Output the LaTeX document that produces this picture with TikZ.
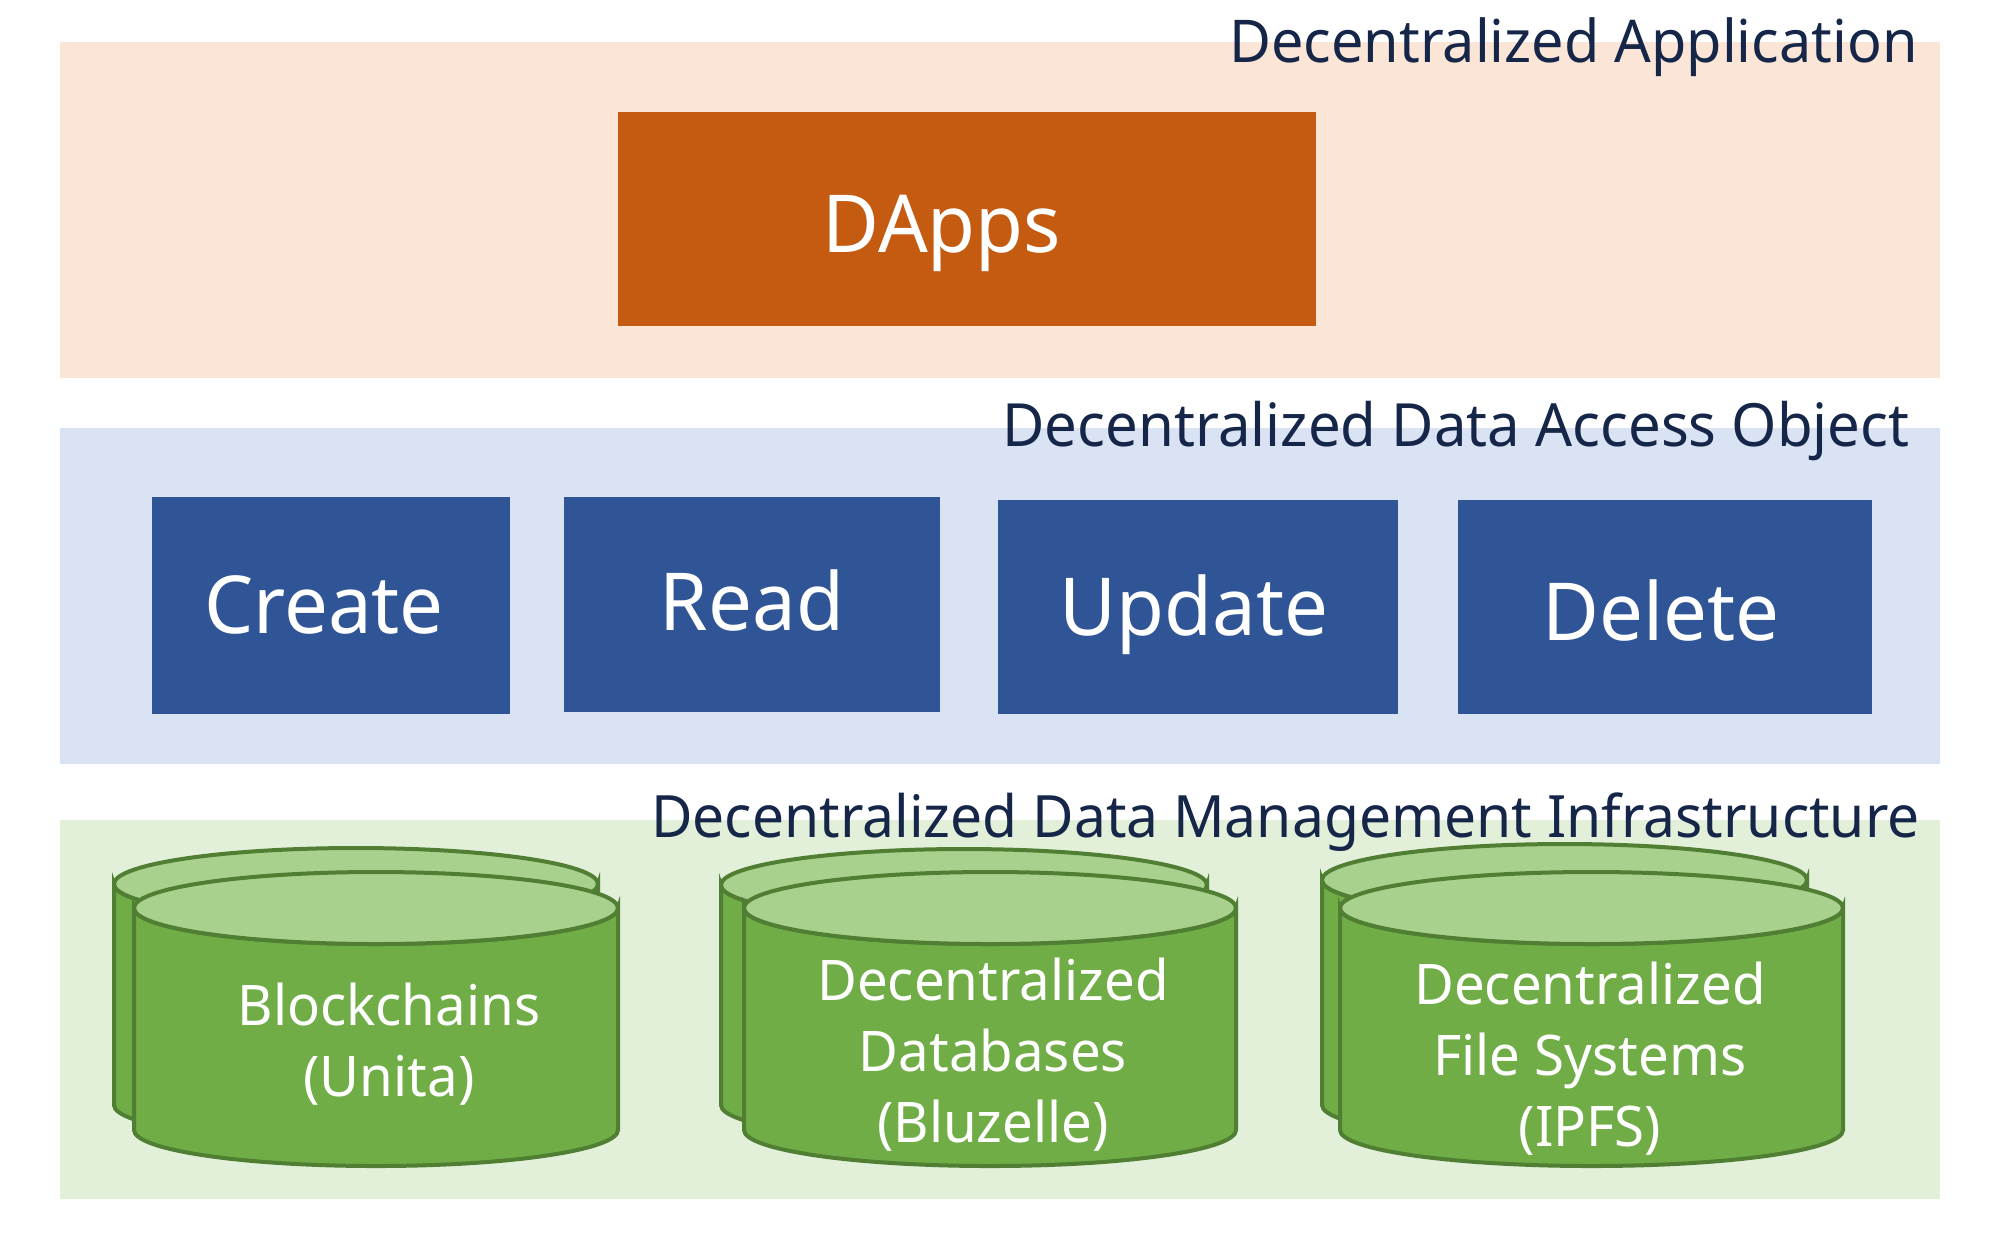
\documentclass[tikz,border=0pt]{standalone}
\usepackage{fontspec}
\setmainfont[FakeStretch=0.975]{Noto Sans}
\definecolor{bandA}{HTML}{FBE5D6}
\definecolor{bandB}{HTML}{DAE3F3}
\definecolor{bandC}{HTML}{E2F0D9}
\definecolor{boxA}{HTML}{C55A11}
\definecolor{boxB}{HTML}{2F5597}
\definecolor{cylFill}{HTML}{70AD47}
\definecolor{cylTop}{HTML}{A9D18E}
\definecolor{cylLine}{HTML}{507E32}
\definecolor{ink}{HTML}{152649}
\tikzset{
  x=0.5pt,y=-0.5pt,
  head/.style={text=ink,font=\fontsize{29.5}{34}\selectfont,anchor=base east,inner sep=0},
  big/.style={text=white,font=\fontsize{40}{46}\selectfont,inner sep=0,anchor=base},
  small/.style={text=white,font=\fontsize{28}{35.5}\selectfont,inner sep=0,align=center,anchor=base},
  cyl/.style={line width=2pt,draw=cylLine},
}
% #1 left, #2 right, #3 top-ellipse centre y, #4 bottom-ellipse centre y, #5 ry
\newcommand{\cylshape}[5]{%
  \path[cyl,fill=cylFill] (#1,#3) -- (#1,#4)
    arc[start angle=180,end angle=0,x radius={(#2-#1)/2},y radius=#5] -- (#2,#3)
    arc[start angle=0,end angle=180,x radius={(#2-#1)/2},y radius=#5] -- cycle;
  \path[cyl,fill=cylTop] ({(#1+#2)/2},#3) ellipse[x radius={(#2-#1)/2},y radius=#5];
}
\begin{document}
\begin{tikzpicture}
\useasboundingbox (0,0) rectangle (2000,1244);
\fill[bandA] (60,42) rectangle (1940,378);
\fill[bandB] (60,428) rectangle (1940,764);
\fill[bandC] (60,820) rectangle (1940,1199);
\fill[boxA] (618,112) rectangle (1316,326);
\fill[boxB] (152,497) rectangle (510,714);
\fill[boxB] (564,497) rectangle (940,712);
\fill[boxB] (998,500) rectangle (1398,714);
\fill[boxB] (1458,500) rectangle (1872,714);
\node[head] (hA) at (1918,62) {Decentralized Application};
\node[head,font=\fontsize{29.8}{34}\selectfont] (hB) at (1910,446) {Decentralized Data Access Object};
\node[head,font=\fontsize{29.2}{34}\selectfont] (hC) at (1920,837) {Decentralized Data Management Infrastructure};
\node[big] (dapps) at (942,252) {DApps};
\node[big] (create) at (324,633) {Create};
\node[big] (read) at (752,630) {Read};
\node[big] (update) at (1194,635) {Update};
\node[big] (delete) at (1661,640) {Delete};
\cylshape{114}{598}{884}{1105}{36}
\cylshape{134}{618}{908}{1130}{36}
\cylshape{721}{1207}{885}{1105}{36}
\cylshape{744}{1236}{908}{1130}{36}
\cylshape{1322}{1807}{880}{1105}{36}
\cylshape{1340}{1843}{908}{1130}{36}
\node[small] (t1) at (389,1096) {Blockchains\\(Unita)};
\node[small] (t2) at (993,1142) {Decentralized\\Databases\\(Bluzelle)};
\node[small] (t3) at (1590,1146) {Decentralized\\File Systems\\(IPFS)};
\end{tikzpicture}
\end{document}
